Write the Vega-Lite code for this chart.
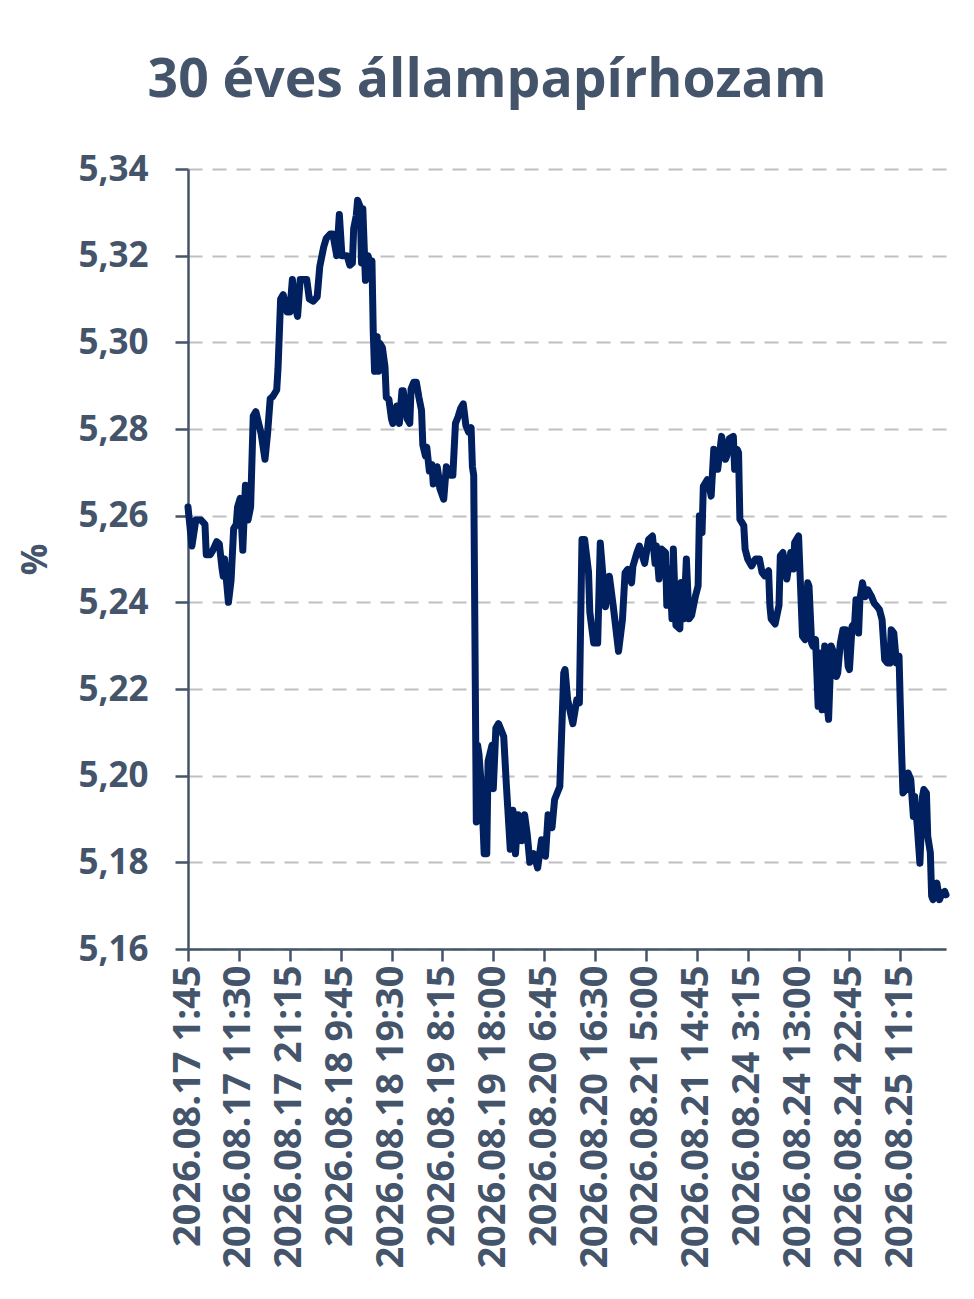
{
  "$schema": "https://vega.github.io/schema/vega-lite/v6.json",
  "autosize": {"type": "none"},
  "padding": {"left": 188, "top": 169, "right": 28, "bottom": 350},
  "width": 758,
  "height": 780,
  "background": "white",
  "title": {
    "text": "30 éves állampapírhozam",
    "font": "Open Sans",
    "fontSize": 53.5,
    "fontWeight": "bold",
    "color": "#44546a",
    "anchor": "middle",
    "dx": -80,
    "offset": 44
  },
  "data": {
    "values": [
      {"i": 0, "v": 5.262}, {"i": 3, "v": 5.253}, {"i": 6, "v": 5.259}, {"i": 10, "v": 5.259},
      {"i": 13, "v": 5.258}, {"i": 14, "v": 5.251}, {"i": 17, "v": 5.251}, {"i": 19, "v": 5.252},
      {"i": 22, "v": 5.254}, {"i": 24, "v": 5.2535}, {"i": 26, "v": 5.248}, {"i": 27, "v": 5.246},
      {"i": 28, "v": 5.25}, {"i": 31, "v": 5.24}, {"i": 33, "v": 5.245}, {"i": 35, "v": 5.257},
      {"i": 37, "v": 5.258}, {"i": 38, "v": 5.262}, {"i": 40, "v": 5.264}, {"i": 42, "v": 5.252},
      {"i": 44, "v": 5.267}, {"i": 46, "v": 5.259}, {"i": 48, "v": 5.262}, {"i": 50, "v": 5.283},
      {"i": 52, "v": 5.284}, {"i": 54, "v": 5.2815}, {"i": 56, "v": 5.279}, {"i": 59, "v": 5.273},
      {"i": 61, "v": 5.279}, {"i": 63, "v": 5.287}, {"i": 65, "v": 5.2875}, {"i": 68, "v": 5.289},
      {"i": 69, "v": 5.294}, {"i": 71, "v": 5.31}, {"i": 73, "v": 5.311}, {"i": 76, "v": 5.307},
      {"i": 78, "v": 5.307}, {"i": 80, "v": 5.3145}, {"i": 82, "v": 5.3085}, {"i": 84, "v": 5.306},
      {"i": 86, "v": 5.3145}, {"i": 88, "v": 5.3145}, {"i": 91, "v": 5.3145}, {"i": 93, "v": 5.31},
      {"i": 96, "v": 5.3095}, {"i": 99, "v": 5.3105}, {"i": 101, "v": 5.3175}, {"i": 104, "v": 5.322},
      {"i": 106, "v": 5.324}, {"i": 109, "v": 5.325}, {"i": 111, "v": 5.325}, {"i": 114, "v": 5.32},
      {"i": 116, "v": 5.3295}, {"i": 118, "v": 5.32}, {"i": 122, "v": 5.32}, {"i": 124, "v": 5.3178},
      {"i": 126, "v": 5.3183}, {"i": 127, "v": 5.3263}, {"i": 129, "v": 5.3293}, {"i": 130, "v": 5.3328},
      {"i": 132, "v": 5.3313}, {"i": 133, "v": 5.3183}, {"i": 134, "v": 5.3308}, {"i": 136, "v": 5.3143},
      {"i": 138, "v": 5.32}, {"i": 140, "v": 5.3178}, {"i": 141, "v": 5.3188}, {"i": 142, "v": 5.3023},
      {"i": 143, "v": 5.2933}, {"i": 145, "v": 5.3013}, {"i": 146, "v": 5.2933}, {"i": 147, "v": 5.2998},
      {"i": 149, "v": 5.2988}, {"i": 151, "v": 5.2943}, {"i": 152, "v": 5.2873}, {"i": 154, "v": 5.2868},
      {"i": 156, "v": 5.2823}, {"i": 157, "v": 5.2813}, {"i": 160, "v": 5.2853}, {"i": 162, "v": 5.2813},
      {"i": 164, "v": 5.2888}, {"i": 165, "v": 5.2888}, {"i": 168, "v": 5.2823}, {"i": 170, "v": 5.2813},
      {"i": 171, "v": 5.2893}, {"i": 173, "v": 5.2908}, {"i": 175, "v": 5.2908}, {"i": 177, "v": 5.2873},
      {"i": 179, "v": 5.2843}, {"i": 180, "v": 5.2763}, {"i": 182, "v": 5.2738}, {"i": 183, "v": 5.2758},
      {"i": 185, "v": 5.2703}, {"i": 187, "v": 5.2718}, {"i": 188, "v": 5.2673}, {"i": 191, "v": 5.2713},
      {"i": 192, "v": 5.2693}, {"i": 193, "v": 5.2663}, {"i": 196, "v": 5.2638}, {"i": 198, "v": 5.2713},
      {"i": 201, "v": 5.2693}, {"i": 203, "v": 5.2693}, {"i": 205, "v": 5.2813}, {"i": 207, "v": 5.2828},
      {"i": 209, "v": 5.2848}, {"i": 211, "v": 5.2858}, {"i": 213, "v": 5.2808}, {"i": 215, "v": 5.2793},
      {"i": 217, "v": 5.2803}, {"i": 218, "v": 5.2713}, {"i": 219, "v": 5.2693}, {"i": 221, "v": 5.1893},
      {"i": 222, "v": 5.207}, {"i": 223, "v": 5.205}, {"i": 225, "v": 5.197}, {"i": 227, "v": 5.182},
      {"i": 229, "v": 5.182}, {"i": 230, "v": 5.2033}, {"i": 233, "v": 5.207}, {"i": 234, "v": 5.197},
      {"i": 236, "v": 5.211}, {"i": 238, "v": 5.212}, {"i": 242, "v": 5.209}, {"i": 244, "v": 5.198},
      {"i": 245, "v": 5.193}, {"i": 247, "v": 5.183}, {"i": 249, "v": 5.192}, {"i": 251, "v": 5.182},
      {"i": 253, "v": 5.191}, {"i": 256, "v": 5.185}, {"i": 258, "v": 5.191}, {"i": 260, "v": 5.1865},
      {"i": 262, "v": 5.18}, {"i": 265, "v": 5.182}, {"i": 268, "v": 5.1787}, {"i": 271, "v": 5.1852},
      {"i": 274, "v": 5.1814}, {"i": 276, "v": 5.191}, {"i": 279, "v": 5.188}, {"i": 281, "v": 5.1945},
      {"i": 285, "v": 5.1975}, {"i": 288, "v": 5.2237}, {"i": 289, "v": 5.2245}, {"i": 291, "v": 5.2175},
      {"i": 295, "v": 5.212}, {"i": 298, "v": 5.2175}, {"i": 300, "v": 5.2168}, {"i": 301, "v": 5.236},
      {"i": 302, "v": 5.2545}, {"i": 304, "v": 5.2545}, {"i": 307, "v": 5.247}, {"i": 308, "v": 5.2377},
      {"i": 311, "v": 5.2306}, {"i": 314, "v": 5.2306}, {"i": 316, "v": 5.2537}, {"i": 320, "v": 5.239},
      {"i": 323, "v": 5.246}, {"i": 326, "v": 5.239}, {"i": 330, "v": 5.2287}, {"i": 333, "v": 5.236},
      {"i": 335, "v": 5.2468}, {"i": 337, "v": 5.2476}, {"i": 340, "v": 5.2445}, {"i": 341, "v": 5.2483},
      {"i": 344, "v": 5.2514}, {"i": 346, "v": 5.253}, {"i": 350, "v": 5.249}, {"i": 353, "v": 5.2545},
      {"i": 356, "v": 5.2553}, {"i": 358, "v": 5.249}, {"i": 359, "v": 5.253}, {"i": 361, "v": 5.2454},
      {"i": 363, "v": 5.2523}, {"i": 366, "v": 5.2515}, {"i": 367, "v": 5.2393}, {"i": 369, "v": 5.2477},
      {"i": 371, "v": 5.2362}, {"i": 372, "v": 5.2523}, {"i": 374, "v": 5.2347}, {"i": 377, "v": 5.2339},
      {"i": 378, "v": 5.2446}, {"i": 380, "v": 5.2362}, {"i": 382, "v": 5.25}, {"i": 384, "v": 5.2362},
      {"i": 386, "v": 5.237}, {"i": 389, "v": 5.2415}, {"i": 391, "v": 5.2438}, {"i": 392, "v": 5.26},
      {"i": 394, "v": 5.2561}, {"i": 395, "v": 5.2668}, {"i": 398, "v": 5.2683}, {"i": 400, "v": 5.2661},
      {"i": 401, "v": 5.2645}, {"i": 403, "v": 5.2753}, {"i": 405, "v": 5.2738}, {"i": 406, "v": 5.2707},
      {"i": 409, "v": 5.2783}, {"i": 412, "v": 5.273}, {"i": 413, "v": 5.2738}, {"i": 415, "v": 5.2778},
      {"i": 418, "v": 5.2783}, {"i": 419, "v": 5.2707}, {"i": 421, "v": 5.2753}, {"i": 422, "v": 5.2745},
      {"i": 423, "v": 5.2592}, {"i": 426, "v": 5.2577}, {"i": 427, "v": 5.2523}, {"i": 429, "v": 5.25},
      {"i": 432, "v": 5.2484}, {"i": 435, "v": 5.25}, {"i": 438, "v": 5.25}, {"i": 440, "v": 5.2469},
      {"i": 442, "v": 5.2461}, {"i": 445, "v": 5.2473}, {"i": 446, "v": 5.2393}, {"i": 447, "v": 5.2362},
      {"i": 450, "v": 5.235}, {"i": 453, "v": 5.2393}, {"i": 454, "v": 5.2507}, {"i": 456, "v": 5.2515},
      {"i": 459, "v": 5.2454}, {"i": 462, "v": 5.2515}, {"i": 464, "v": 5.2477}, {"i": 465, "v": 5.2538},
      {"i": 468, "v": 5.2553}, {"i": 471, "v": 5.2322}, {"i": 473, "v": 5.2314}, {"i": 475, "v": 5.2445},
      {"i": 476, "v": 5.2437}, {"i": 478, "v": 5.2306}, {"i": 479, "v": 5.2299}, {"i": 481, "v": 5.2314},
      {"i": 483, "v": 5.216}, {"i": 484, "v": 5.2283}, {"i": 486, "v": 5.2152}, {"i": 488, "v": 5.2299},
      {"i": 489, "v": 5.219}, {"i": 491, "v": 5.213}, {"i": 493, "v": 5.2299}, {"i": 495, "v": 5.2283},
      {"i": 497, "v": 5.2229}, {"i": 498, "v": 5.2237}, {"i": 500, "v": 5.2306}, {"i": 502, "v": 5.2337},
      {"i": 504, "v": 5.2337}, {"i": 506, "v": 5.2252}, {"i": 507, "v": 5.2245}, {"i": 509, "v": 5.2345},
      {"i": 511, "v": 5.2352}, {"i": 512, "v": 5.2406}, {"i": 514, "v": 5.2329}, {"i": 515, "v": 5.2406},
      {"i": 517, "v": 5.2445}, {"i": 519, "v": 5.2413}, {"i": 521, "v": 5.2429}, {"i": 524, "v": 5.2413},
      {"i": 526, "v": 5.2398}, {"i": 528, "v": 5.2391}, {"i": 530, "v": 5.2383}, {"i": 532, "v": 5.236},
      {"i": 534, "v": 5.2268}, {"i": 536, "v": 5.226}, {"i": 538, "v": 5.226}, {"i": 539, "v": 5.2337},
      {"i": 541, "v": 5.2329}, {"i": 543, "v": 5.226}, {"i": 545, "v": 5.2276}, {"i": 546, "v": 5.216},
      {"i": 547, "v": 5.2052}, {"i": 548, "v": 5.196}, {"i": 550, "v": 5.1968}, {"i": 552, "v": 5.2006},
      {"i": 554, "v": 5.1991}, {"i": 556, "v": 5.1906}, {"i": 557, "v": 5.1952}, {"i": 559, "v": 5.1883},
      {"i": 561, "v": 5.1798}, {"i": 563, "v": 5.1952}, {"i": 564, "v": 5.1968}, {"i": 566, "v": 5.196},
      {"i": 567, "v": 5.186}, {"i": 569, "v": 5.1822}, {"i": 570, "v": 5.1722}, {"i": 571, "v": 5.1714},
      {"i": 574, "v": 5.1752}, {"i": 576, "v": 5.1714}, {"i": 578, "v": 5.1729}, {"i": 580, "v": 5.1733},
      {"i": 581, "v": 5.1725}
    ]
  },
  "mark": {
    "type": "line",
    "color": "#002060",
    "strokeWidth": 7,
    "strokeJoin": "round",
    "strokeCap": "round",
    "clip": false
  },
  "encoding": {
    "x": {
      "field": "i",
      "type": "quantitative",
      "scale": {"domain": [0, 581], "nice": false, "zero": false},
      "axis": {
        "title": null,
        "values": [0, 39, 78, 117, 156, 195, 234, 273, 312, 351, 390, 429, 468, 507, 546],
        "labelExpr": "['2026.08.17 1:45','2026.08.17 11:30','2026.08.17 21:15','2026.08.18 9:45','2026.08.18 19:30','2026.08.19 8:15','2026.08.19 18:00','2026.08.20 6:45','2026.08.20 16:30','2026.08.21 5:00','2026.08.21 14:45','2026.08.24 3:15','2026.08.24 13:00','2026.08.24 22:45','2026.08.25 11:15'][round(datum.value / 39)]",
        "labelAngle": -90,
        "labelPadding": 4,
        "labelFontSize": 38,
        "labelLimit": 0,
        "labelFlush": false,
        "labelOverlap": false,
        "grid": false,
        "tickSize": 12
      }
    },
    "y": {
      "field": "v",
      "type": "quantitative",
      "scale": {"domain": [5.16, 5.34], "nice": false, "zero": false},
      "axis": {
        "title": "%",
        "values": [5.16, 5.18, 5.2, 5.22, 5.24, 5.26, 5.28, 5.3, 5.32, 5.34],
        "labelExpr": "replace(format(datum.value, '.2f'), '.', ',')",
        "labelPadding": 27,
        "tickSize": 13,
        "grid": true,
        "gridColor": "#bfbfbf",
        "gridWidth": 2,
        "gridDash": [14, 10],
        "titlePadding": 24,
        "titleAngle": -90
      }
    }
  },
  "config": {
    "view": {"stroke": null},
    "axis": {
      "domainColor": "#44546a",
      "domainWidth": 2.5,
      "tickColor": "#44546a",
      "tickWidth": 2.5,
      "labelFont": "Open Sans",
      "labelFontSize": 35,
      "labelFontWeight": "bold",
      "labelColor": "#44546a",
      "titleFont": "Open Sans",
      "titleFontSize": 35,
      "titleFontWeight": "bold",
      "titleColor": "#44546a"
    }
  }
}
